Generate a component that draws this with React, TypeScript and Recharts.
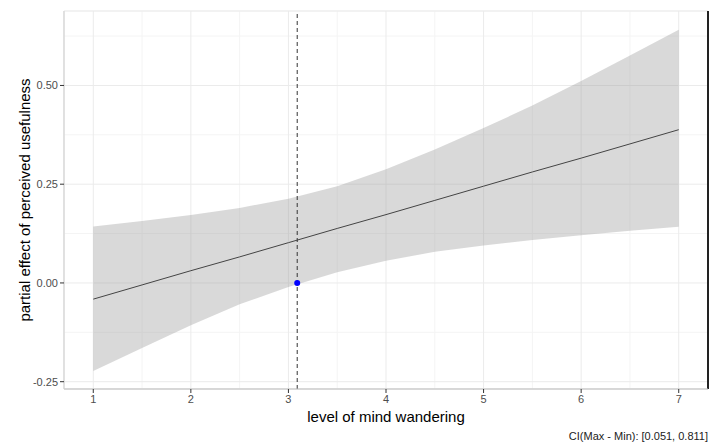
import React from "react";
import {
  ComposedChart,
  Area,
  Line,
  XAxis,
  YAxis,
  CartesianGrid,
  ReferenceLine,
  ReferenceDot,
  Label,
} from "recharts";

const xs = [1, 1.5, 2, 2.5, 3, 3.5, 4, 4.5, 5, 5.5, 6, 6.5, 7];
const fitValues = [-0.041, -0.005, 0.031, 0.066, 0.102, 0.138, 0.173, 0.209, 0.245, 0.281, 0.316, 0.352, 0.388];
const upperValues = [0.143, 0.157, 0.172, 0.19, 0.213, 0.245, 0.288, 0.338, 0.392, 0.449, 0.511, 0.576, 0.641];
const lowerValues = [-0.223, -0.165, -0.107, -0.054, -0.01, 0.027, 0.056, 0.079, 0.095, 0.109, 0.121, 0.132, 0.142];

const xTicks = [1, 2, 3, 4, 5, 6, 7];
const yTicks = [-0.25, 0, 0.25, 0.5];
const xMinor = [1.5, 2.5, 3.5, 4.5, 5.5, 6.5];
const yMinor = [-0.125, 0.125, 0.375, 0.625];
const xDomain = [0.7, 7.3];
const yDomain = [-0.2685, 0.6885];
const markerX = 3.09;
const markerY = 0;
const xTitle = "level of mind wandering";
const yTitle = "partial effect of perceived usefulness";
const caption = "CI(Max - Min): [0.051, 0.811]";

const data = xs.map((x, i) => ({
  x,
  fit: fitValues[i],
  band: [lowerValues[i], upperValues[i]],
}));

const FONT = "'Liberation Sans', Arial, sans-serif";

export default function App() {
  return (
    <div style={{ position: "absolute", left: 0, top: 0, width: 710, height: 443, fontFamily: FONT, background: "#fff", overflow: "hidden" }}>
      <ComposedChart
        width={710}
        height={443}
        data={data}
        margin={{ top: 11, right: 2, bottom: 24, left: 0 }}
      >
        <CartesianGrid xAxisId="minor" yAxisId="minor" stroke="#f4f4f4" strokeWidth={1} />
        <CartesianGrid stroke="#ebebeb" strokeWidth={1} />
        <XAxis
          xAxisId="minor"
          dataKey="x"
          type="number"
          domain={xDomain}
          ticks={xMinor}
          allowDataOverflow
          hide
        />
        <YAxis
          yAxisId="minor"
          type="number"
          domain={yDomain}
          ticks={yMinor}
          allowDataOverflow
          hide
        />
        <XAxis
          dataKey="x"
          type="number"
          domain={xDomain}
          ticks={xTicks}
          allowDataOverflow
          height={30}
          tickSize={4}
          tickMargin={2}
          tick={{ fill: "#4d4d4d", fontSize: 11, fontFamily: FONT }}
          tickLine={{ stroke: "#333" }}
          axisLine={{ stroke: "#bdbdbd" }}
        >
          <Label
            content={(props: any) => {
              const vb = props.viewBox || {};
              return (
                <g>
                  <text
                    x={vb.x + vb.width / 2}
                    y={vb.y + 33}
                    textAnchor="middle"
                    fontSize={15}
                    fill="#000"
                    fontFamily={FONT}
                  >
                    {xTitle}
                  </text>
                  <text
                    x={vb.x + vb.width}
                    y={vb.y + 51}
                    textAnchor="end"
                    fontSize={11}
                    fill="#222"
                    fontFamily={FONT}
                  >
                    {caption}
                  </text>
                </g>
              );
            }}
          />
        </XAxis>
        <YAxis
          type="number"
          domain={yDomain}
          ticks={yTicks}
          allowDataOverflow
          width={64}
          tickSize={4}
          tickMargin={2}
          tickFormatter={(v: number) => v.toFixed(2)}
          tick={{ fill: "#4d4d4d", fontSize: 11, fontFamily: FONT }}
          tickLine={{ stroke: "#333" }}
          axisLine={{ stroke: "#cfcfcf" }}
        >
          <Label
            content={(props: any) => {
              const vb = props.viewBox || {};
              const cx = 24;
              const cy = vb.y + vb.height / 2;
              return (
                <text
                  x={cx}
                  y={cy}
                  transform={`rotate(-90 ${cx} ${cy})`}
                  textAnchor="middle"
                  dominantBaseline="central"
                  fontSize={15}
                  fill="#000"
                  fontFamily={FONT}
                >
                  {yTitle}
                </text>
              );
            }}
          />
        </YAxis>
        <Area
          dataKey="band"
          type="linear"
          stroke="none"
          fill="#999999"
          fillOpacity={0.37}
          isAnimationActive={false}
          activeDot={false}
        />
        <Line
          dataKey="fit"
          type="linear"
          stroke="#444"
          strokeWidth={1}
          dot={false}
          activeDot={false}
          isAnimationActive={false}
        />
        <ReferenceLine x={markerX} stroke="#333" strokeWidth={1} strokeDasharray="4 3" />
        <ReferenceLine x={xDomain[1]} stroke="#222" strokeWidth={2} />
        <ReferenceDot x={markerX} y={markerY} r={3} fill="#0000ff" stroke="none" />
      </ComposedChart>
    </div>
  );
}
